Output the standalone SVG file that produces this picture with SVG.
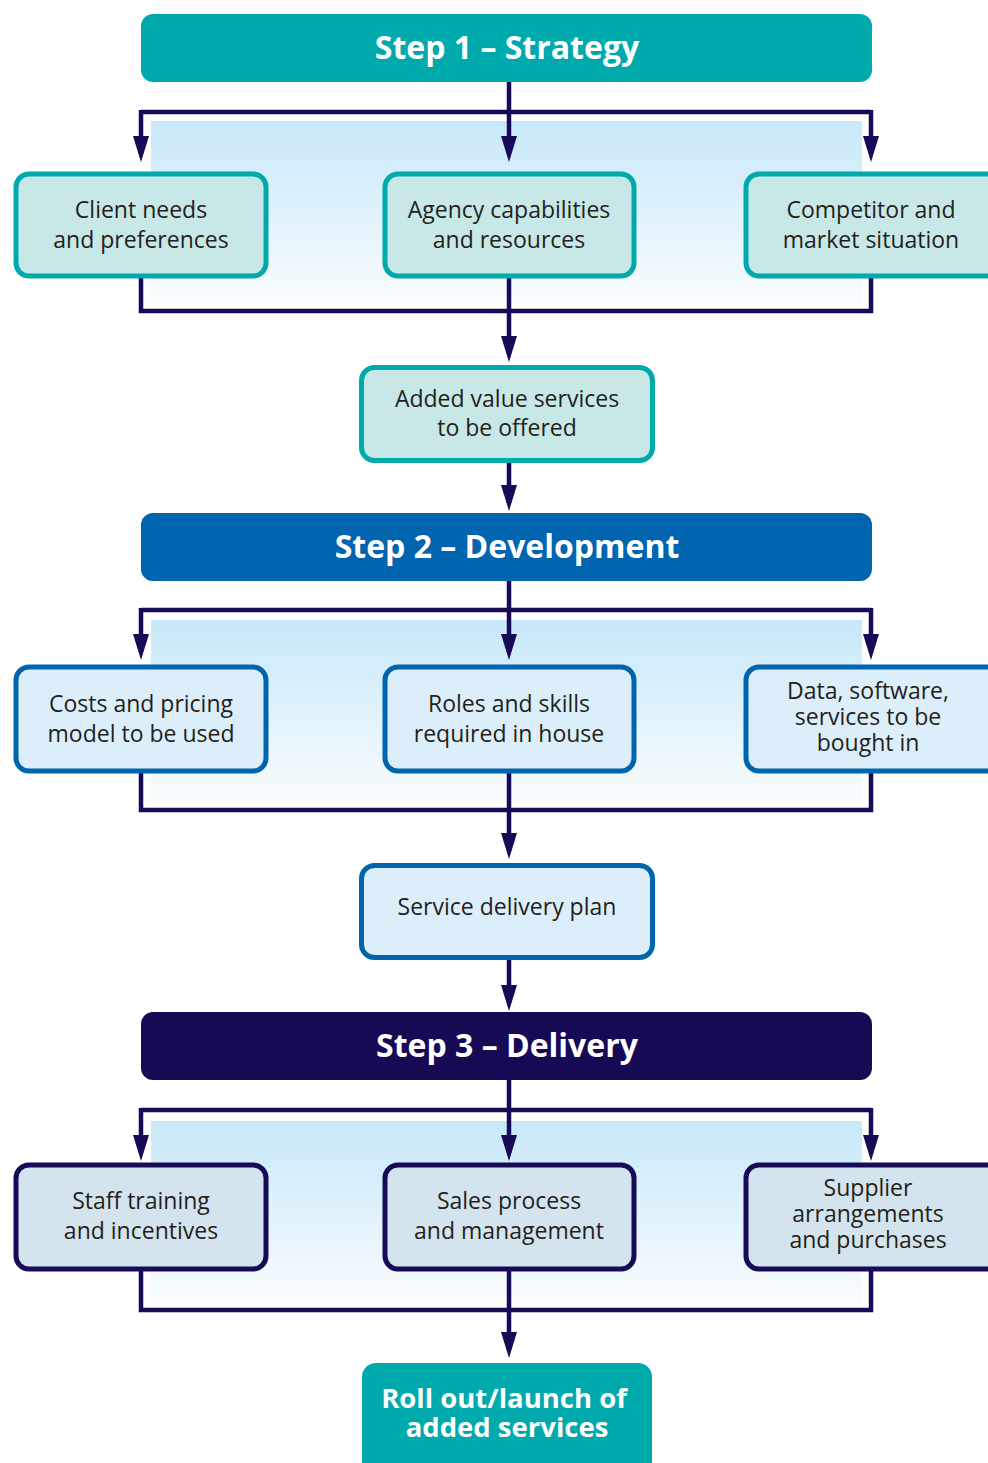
<svg xmlns="http://www.w3.org/2000/svg" width="988" height="1463" viewBox="0 0 988 1463">
  <defs>
    <linearGradient id="panel" x1="0" y1="0" x2="0" y2="1">
      <stop offset="0" stop-color="#C7E8F9"/>
      <stop offset="1" stop-color="#F9FCFE"/>
    </linearGradient>
    <marker id="arr" viewBox="0 0 26 16" refX="18" refY="8" markerWidth="26" markerHeight="16" markerUnits="userSpaceOnUse" orient="auto">
      <path d="M0,0 L26,8 L0,16 z" fill="#170A56"/>
    </marker>
    <style>
      .hdr-t { font-family: "Open Sans", "Noto Sans", sans-serif; font-weight: 700; font-size: 32px; fill: #ffffff; text-anchor: middle; }
      .box-t { font-family: "Open Sans", "Noto Sans", sans-serif; font-size: 23px; fill: #231F20; text-anchor: middle; }
      .roll-t { font-family: "Open Sans", "Noto Sans", sans-serif; font-weight: 700; font-size: 27.5px; fill: #ffffff; text-anchor: middle; }
      .s1 { fill: #C8E8E8; stroke: #00A9AC; stroke-width: 5; }
      .s2 { fill: #DCEEFA; stroke: #0064AE; stroke-width: 5; }
      .s3 { fill: #D4E4EE; stroke: #170A56; stroke-width: 5; }
      .ln { fill: none; stroke: #170A56; stroke-width: 4.5; }
      .ar { fill: none; stroke: #170A56; stroke-width: 4.5; marker-end: url(#arr); }
    </style>
  </defs>

  <!-- background panels -->
  <g id="panels">
    <rect x="151" y="121" width="711" height="183" fill="url(#panel)"/>
    <rect x="151" y="620" width="711" height="183" fill="url(#panel)"/>
    <rect x="151" y="1121" width="711" height="183" fill="url(#panel)"/>
  </g>

  <!-- connectors -->
  <g id="connectors">
    <!-- step 1 -->
    <path class="ar" d="M509,82 V154"/>
    <path class="ln" d="M141,112 H871"/>
    <path class="ar" d="M141,110 V154"/>
    <path class="ar" d="M871,110 V154"/>
    <path class="ln" d="M141,276 V311 H871 V276"/>
    <path class="ar" d="M509,276 V354"/>
    <path class="ar" d="M509,463 V503"/>
    <!-- step 2 -->
    <path class="ar" d="M509,581 V652"/>
    <path class="ln" d="M141,610 H871"/>
    <path class="ar" d="M141,608 V652"/>
    <path class="ar" d="M871,608 V652"/>
    <path class="ln" d="M141,771 V810 H871 V771"/>
    <path class="ar" d="M509,771 V851"/>
    <path class="ar" d="M509,959 V1003"/>
    <!-- step 3 -->
    <path class="ar" d="M509,1080 V1153"/>
    <path class="ln" d="M141,1110 H871"/>
    <path class="ar" d="M141,1108 V1153"/>
    <path class="ar" d="M871,1108 V1153"/>
    <path class="ln" d="M141,1269 V1310 H871 V1269"/>
    <path class="ar" d="M509,1269 V1350"/>
  </g>

  <!-- Step 1 -->
  <g id="step1">
    <rect x="141" y="14" width="731" height="68" rx="12" fill="#00A9AC"/>
    <text class="hdr-t" x="507" y="59">Step 1 – Strategy</text>
  </g>
  <g id="client-needs">
    <rect class="s1" x="16" y="174" width="250" height="102" rx="13"/>
    <text class="box-t" x="141" y="218">Client needs<tspan x="141" dy="30">and preferences</tspan></text>
  </g>
  <g id="agency-capabilities">
    <rect class="s1" x="385" y="174" width="249" height="102" rx="13"/>
    <text class="box-t" x="509" y="218">Agency capabilities<tspan x="509" dy="30">and resources</tspan></text>
  </g>
  <g id="competitor">
    <rect class="s1" x="746" y="174" width="260" height="102" rx="13"/>
    <text class="box-t" x="871" y="218">Competitor and<tspan x="871" dy="30">market situation</tspan></text>
  </g>
  <g id="added-value">
    <rect class="s1" x="361.5" y="367.5" width="291" height="93" rx="13"/>
    <text class="box-t" x="507" y="407">Added value services<tspan x="507" dy="29">to be offered</tspan></text>
  </g>

  <!-- Step 2 -->
  <g id="step2">
    <rect x="141" y="513" width="731" height="68" rx="12" fill="#0064AE"/>
    <text class="hdr-t" x="507" y="558">Step 2 – Development</text>
  </g>
  <g id="costs-pricing">
    <rect class="s2" x="16" y="667" width="250" height="104" rx="13"/>
    <text class="box-t" x="141" y="712">Costs and pricing<tspan x="141" dy="30">model to be used</tspan></text>
  </g>
  <g id="roles-skills">
    <rect class="s2" x="385" y="667" width="249" height="104" rx="13"/>
    <text class="box-t" x="509" y="712">Roles and skills<tspan x="509" dy="30">required in house</tspan></text>
  </g>
  <g id="data-software">
    <rect class="s2" x="746" y="667" width="260" height="104" rx="13"/>
    <text class="box-t" x="868" y="699">Data, software,<tspan x="868" dy="26">services to be</tspan><tspan x="868" dy="26">bought in</tspan></text>
  </g>
  <g id="service-delivery">
    <rect class="s2" x="361.5" y="865.5" width="291" height="92" rx="13"/>
    <text class="box-t" x="507" y="915">Service delivery plan</text>
  </g>

  <!-- Step 3 -->
  <g id="step3">
    <rect x="141" y="1012" width="731" height="68" rx="12" fill="#160A55"/>
    <text class="hdr-t" x="507" y="1057">Step 3 – Delivery</text>
  </g>
  <g id="staff-training">
    <rect class="s3" x="16" y="1165" width="250" height="104" rx="13"/>
    <text class="box-t" x="141" y="1209">Staff training<tspan x="141" dy="30">and incentives</tspan></text>
  </g>
  <g id="sales-process">
    <rect class="s3" x="385" y="1165" width="249" height="104" rx="13"/>
    <text class="box-t" x="509" y="1209">Sales process<tspan x="509" dy="30">and management</tspan></text>
  </g>
  <g id="supplier">
    <rect class="s3" x="746" y="1165" width="260" height="104" rx="13"/>
    <text class="box-t" x="868" y="1196">Supplier<tspan x="868" dy="26">arrangements</tspan><tspan x="868" dy="26">and purchases</tspan></text>
  </g>

  <!-- Roll out -->
  <g id="roll-out">
    <rect x="362" y="1363" width="290" height="115" rx="14" fill="#00A9AC"/>
    <text class="roll-t" x="504" y="1408">Roll out/launch of<tspan x="507" dy="29">added services</tspan></text>
  </g>
</svg>
